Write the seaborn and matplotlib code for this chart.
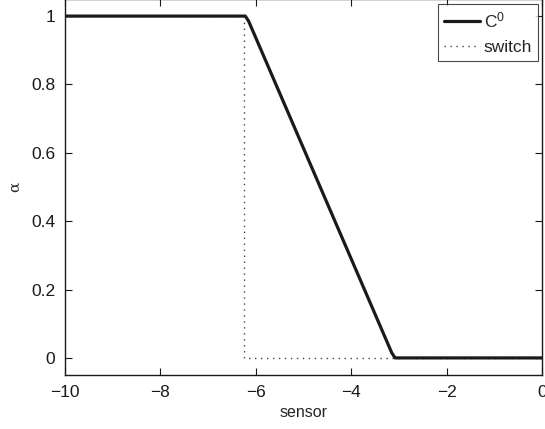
import numpy as np
import pandas as pd
import matplotlib
matplotlib.use("Agg")
import matplotlib.pyplot as plt
import seaborn as sns

# Continuous (C0) blend and hard switch of alpha versus sensor value
c0_sensor = [-10.0, -6.22, -6.15, -3.15, -3.08, 0.0]
c0_alpha = [1.0, 1.0, 0.985, 0.015, 0.0, 0.0]
switch_sensor = [-10.0, -6.25, -6.25, 0.0]
switch_alpha = [1.0, 1.0, 0.0, 0.0]

x_ticks = [-10, -8, -6, -4, -2, 0]
y_ticks = [0, 0.2, 0.4, 0.6, 0.8, 1]
y_tick_labels = ["0", "0.2", "0.4", "0.6", "0.8", "1"]

sns.set_style("ticks")
plt.rcParams["font.family"] = ["Liberation Sans", "DejaVu Sans"]
plt.rcParams["axes.linewidth"] = 1.0
plt.rcParams["xtick.direction"] = "in"
plt.rcParams["ytick.direction"] = "in"

fig = plt.figure(figsize=(5.45, 4.29), dpi=100)
ax = fig.add_axes([65 / 545, 54 / 429, 477 / 545, 376 / 429])

c0 = pd.DataFrame({"sensor": c0_sensor, "alpha": c0_alpha})
sw = pd.DataFrame({"sensor": switch_sensor, "alpha": switch_alpha})

sns.lineplot(data=sw, x="sensor", y="alpha", ax=ax, sort=False,
             estimator=None, color="#444444", linewidth=1.0,
             linestyle=(0, (1, 3.3)), label="switch", zorder=2)
sns.lineplot(data=c0, x="sensor", y="alpha", ax=ax, sort=False,
             estimator=None, color="#1a1a1a", linewidth=2.3,
             label=r"$\mathregular{C^0}$", zorder=3)

ax.set_xlim(-10, 0)
ax.set_ylim(-0.05, 1.05)
ax.set_xticks(x_ticks)
ax.set_yticks(y_ticks)
ax.set_yticklabels(y_tick_labels)
ax.tick_params(axis="both", labelsize=12.5, length=5, width=0.8,
               top=True, right=True, colors="#1a1a1a", pad=7)
for s in ax.spines.values():
    s.set_color("#1a1a1a")

ax.set_xlabel("sensor", fontsize=11.5, labelpad=4)
ax.set_ylabel("α", fontsize=11, family=["DejaVu Serif"])
ax.yaxis.set_label_coords(-0.09, 0.5)

handles, labels = ax.get_legend_handles_labels()
order = [1, 0]
leg = ax.legend([handles[i] for i in order], [labels[i] for i in order],
                loc="upper right", bbox_to_anchor=(538 / 545, 425 / 429),
                bbox_transform=fig.transFigure, borderaxespad=0,
                fontsize=12.5, frameon=True, fancybox=False,
                handlelength=2.1, handletextpad=0.2, borderpad=0.35,
                labelspacing=0.55)
leg.get_frame().set_edgecolor("#1a1a1a")
leg.get_frame().set_linewidth(0.8)

fig.savefig("out.png", dpi=100)
